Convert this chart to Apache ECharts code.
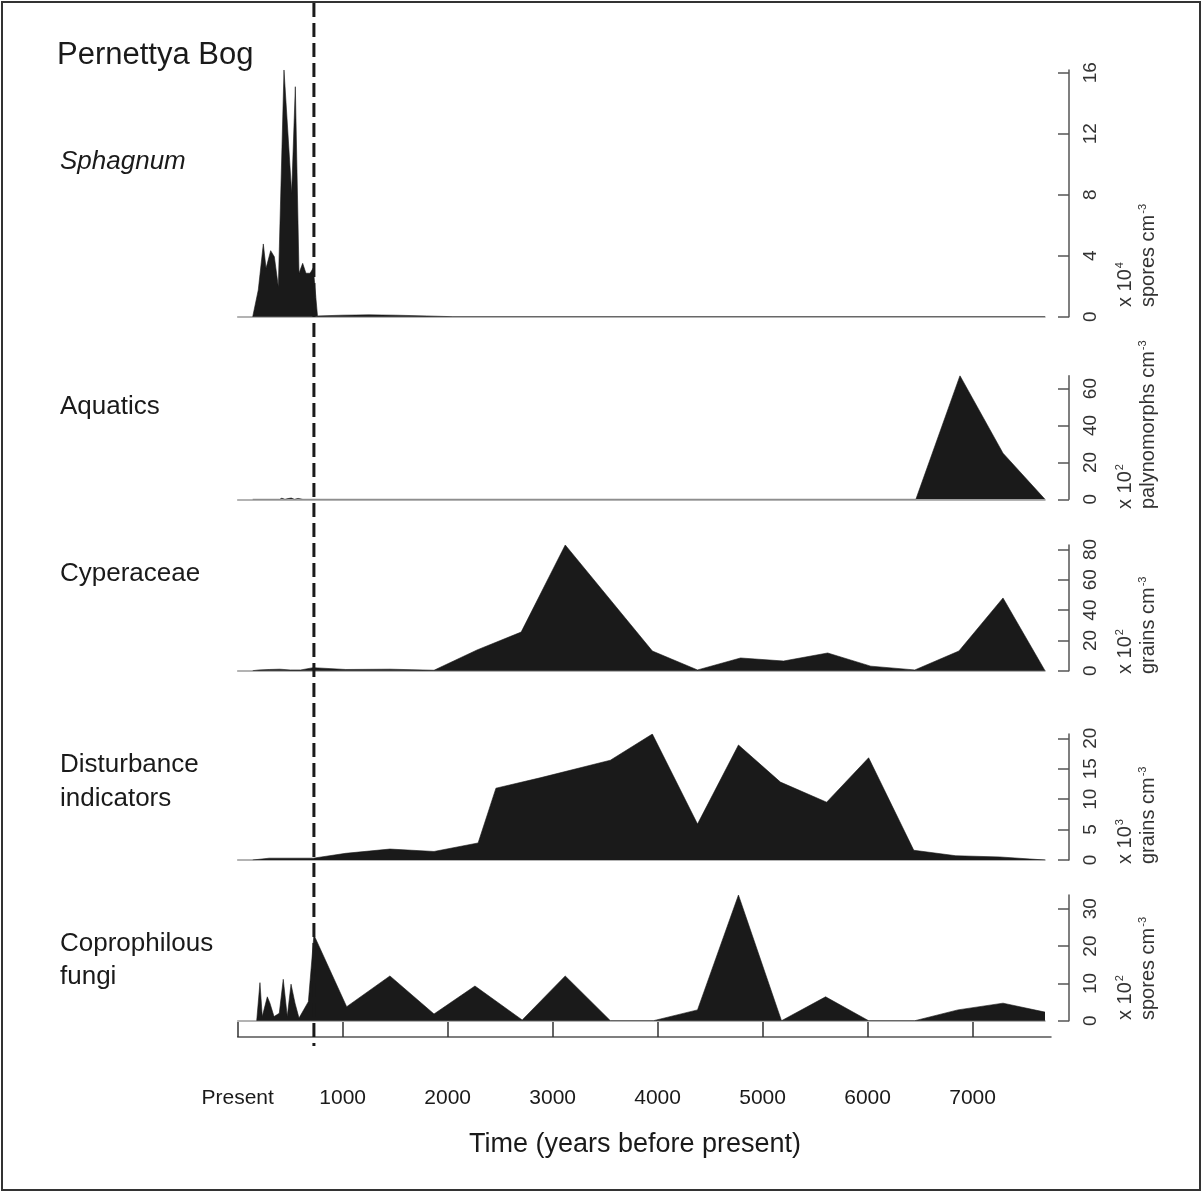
<!DOCTYPE html>
<html>
<head>
<meta charset="utf-8">
<script src="https://cdn.jsdelivr.net/npm/echarts@6/dist/echarts.min.js"></script>
<style>
  html, body { margin: 0; padding: 0; background: #ffffff; }
  #chart { width: 1203px; height: 1193px; }
</style>
</head>
<body>
<div id="chart"></div>
<script>
// ---- Time axis (years before present) ----
const timeTicks = [0, 1000, 2000, 3000, 4000, 5000, 6000, 7000];
const timeTickLabels = ['Present', '1000', '2000', '3000', '4000', '5000', '6000', '7000'];
const recordEnd = [7690];
const settlementAge = [726];

// ---- Sphagnum (x 10^4 spores cm-3) ----
const sphagnumAge  = [143, 196, 244, 270, 314, 349, 387, 441, 514, 549, 584, 619, 650, 689, 720, 760, 1000, 1250, 1500, 1800, 2050, 7690];
const sphagnumConc = [0, 1.75, 4.77, 3.17, 4.33, 3.93, 1.97, 16.18, 8.09, 15.08, 2.85, 3.5, 2.85, 2.85, 3.2, 0.05, 0.1, 0.12, 0.1, 0.05, 0, 0];
const sphagnumTicks = [0, 4, 8, 12, 16];

// ---- Aquatics (x 10^2 palynomorphs cm-3) ----
const aquaticsAge  = [143, 400, 420, 450, 480, 510, 540, 575, 590, 620, 720, 6460, 6880, 7290, 7690];
const aquaticsConc = [0, 0, 0.6, 0, 0.4, 0.7, 0, 0.5, 0, 0, 0, 0, 67, 25, 0];
const aquaticsTicks = [0, 20, 40, 60];

// ---- Cyperaceae (x 10^2 grains cm-3) ----
const cyperAge  = [143, 200, 300, 400, 500, 600, 720, 1030, 1450, 1870, 2280, 2700, 3120, 3950, 4380, 4790, 5200, 5620, 6030, 6450, 6870, 7290, 7690];
const cyperConc = [0, 0.5, 0.8, 1, 0.5, 0.5, 2, 0.8, 1, 0.3, 13.7, 25.5, 83, 13, 0.5, 8.4, 6.4, 11.7, 3, 0.5, 13, 48, 0];
const cyperTicks = [0, 20, 40, 60, 80];

// ---- Disturbance indicators (x 10^3 grains cm-3) ----
const disturbAge  = [143, 300, 500, 720, 1030, 1450, 1870, 2290, 2460, 2880, 3550, 3950, 4380, 4770, 5170, 5610, 6010, 6440, 6840, 7260, 7690];
const disturbConc = [0, 0.3, 0.3, 0.3, 1.1, 1.8, 1.4, 2.8, 11.8, 13.5, 16.4, 20.7, 5.9, 18.9, 12.8, 9.5, 16.8, 1.6, 0.7, 0.5, 0];
const disturbTicks = [0, 5, 10, 15, 20];

// ---- Coprophilous fungi (x 10^2 spores cm-3) ----
const coproAge  = [181, 212, 234, 282, 307, 346, 396, 434, 472, 508, 546, 584, 673, 726, 1038, 1450, 1870, 2260, 2710, 3120, 3550, 3960, 4380, 4770, 5180, 5600, 6010, 6450, 6860, 7290, 7690];
const coproConc = [0, 10.2, 1.1, 6.4, 4.7, 1.1, 2, 11.1, 1.1, 9.8, 4.7, 0.7, 5.1, 23, 3.75, 12, 1.8, 9.3, 0.2, 12, 0, 0, 2.9, 33.7, 0, 6.4, 0, 0, 2.9, 4.7, 2.3];
const coproTicks = [0, 10, 20, 30];

// ---- Panel layout: baseline (px) and vertical scale (px per unit) ----
const PLOT_LEFT = 237.7;
const PLOT_RIGHT = 1045;
const AXIS_END_PX = 1051;
const panels = [
  { name: 'Sphagnum', italic: true, age: sphagnumAge, conc: sphagnumConc, ticks: sphagnumTicks,
    base: 316.7, ppu: 15.25, exp: '4', unit: 'spores', labelY: [160], unitBottom: 307 },
  { name: 'Aquatics', age: aquaticsAge, conc: aquaticsConc, ticks: aquaticsTicks,
    base: 499.3, ppu: 1.845, exp: '2', unit: 'palynomorphs', labelY: [405], unitBottom: 509 },
  { name: 'Cyperaceae', age: cyperAge, conc: cyperConc, ticks: cyperTicks,
    base: 670.7, ppu: 1.515, exp: '2', unit: 'grains', labelY: [572], unitBottom: 674 },
  { name: 'Disturbance\nindicators', age: disturbAge, conc: disturbConc, ticks: disturbTicks,
    base: 860, ppu: 6.085, exp: '3', unit: 'grains', labelY: [763, 797], unitBottom: 864 },
  { name: 'Coprophilous\nfungi', age: coproAge, conc: coproConc, ticks: coproTicks,
    base: 1020.7, ppu: 3.73, exp: '2', unit: 'spores', labelY: [942, 975], unitBottom: 1020 }
];

const FONT = '"Liberation Sans", Arial, Helvetica, sans-serif';
const INK = '#1a1a1a';
const W = 1203;

const grids = [], xAxes = [], yAxes = [], series = [], graphics = [];

panels.forEach((p, i) => {
  const ymax = Math.max.apply(null, p.conc);
  const top = p.base - ymax * p.ppu;
  grids.push({ left: PLOT_LEFT, width: PLOT_RIGHT - PLOT_LEFT, top: top, height: p.base - top });
  xAxes.push({
    gridIndex: i, type: 'value', min: 0, max: recordEnd[0],
    axisLine: { show: true, onZero: false, lineStyle: { color: '#9a9a9a', width: 1.5 } },
    axisTick: { show: false }, axisLabel: { show: false }, splitLine: { show: false }
  });
  yAxes.push({
    gridIndex: i, type: 'value', min: 0, max: ymax, position: 'right', offset: 24,
    axisLine: { show: true, onZero: false, lineStyle: { color: '#555', width: 1.5 } },
    axisTick: { show: true, inside: true, length: 11, lineStyle: { color: '#555', width: 1.5 }, customValues: p.ticks },
    axisLabel: { show: true, rotate: 90, fontSize: 19, color: '#333', fontFamily: FONT, margin: 12, customValues: p.ticks },
    splitLine: { show: false }
  });
  series.push({
    type: 'line', xAxisIndex: i, yAxisIndex: i,
    data: p.age.map((a, k) => [a, p.conc[k]]),
    symbol: 'none', silent: true,
    lineStyle: { color: INK, width: 0.6 },
    areaStyle: { color: INK, opacity: 1 },
    z: 3
  });

  // panel label on the left
  const lines = p.name.split('\n');
  lines.forEach((ln, k) => {
    graphics.push({
      type: 'text', left: 60, top: p.labelY[k] - 11,
      style: { text: ln, font: (p.italic ? 'italic ' : '') + '26px ' + FONT, fill: '#1a1a1a' }
    });
  });

  // unit label, rotated, on the right of the axis
  graphics.push({
    type: 'text', x: 1125, y: p.unitBottom, rotation: Math.PI / 2,
    style: {
      text: 'x 10{sup|' + p.exp + '}', fontSize: 20, fontFamily: FONT, fill: '#333',
      align: 'left', verticalAlign: 'middle',
      rich: { sup: { fontSize: 11, fontFamily: FONT, fill: '#333', padding: [0, 0, 10, 1] } }
    }
  });
  graphics.push({
    type: 'text', x: 1148, y: p.unitBottom, rotation: Math.PI / 2,
    style: {
      text: p.unit + ' cm{sup|-3}', fontSize: 20, fontFamily: FONT, fill: '#333',
      align: 'left', verticalAlign: 'middle',
      rich: { sup: { fontSize: 11, fontFamily: FONT, fill: '#333', padding: [0, 0, 10, 1] } }
    }
  });
});

// shared time axis at the bottom
const axisGrid = grids.length;
const axisMaxAge = recordEnd[0] * (AXIS_END_PX - PLOT_LEFT) / (PLOT_RIGHT - PLOT_LEFT);
grids.push({ left: PLOT_LEFT, width: AXIS_END_PX - PLOT_LEFT, top: 1020, height: 17 });
xAxes.push({
  gridIndex: axisGrid, type: 'value', min: 0, max: axisMaxAge,
  axisLine: { show: true, onZero: false, lineStyle: { color: '#555', width: 1.5 } },
  axisTick: { show: true, inside: true, length: 15, lineStyle: { color: '#333', width: 1.5 }, customValues: timeTicks },
  axisLabel: {
    show: true, fontSize: 21, color: '#1a1a1a', fontFamily: FONT, margin: 51,
    customValues: timeTicks,
    formatter: v => timeTickLabels[timeTicks.indexOf(v)]
  },
  splitLine: { show: false }
});
yAxes.push({ gridIndex: axisGrid, type: 'value', min: 0, max: 1, show: false });
series.push({ type: 'line', xAxisIndex: axisGrid, yAxisIndex: axisGrid, data: [], silent: true });

// axis title, site title and frame
graphics.push({
  type: 'text', x: 635, y: 1145,
  style: { text: 'Time (years before present)', font: '27px ' + FONT, fill: '#1a1a1a', align: 'center', verticalAlign: 'middle' }
});
graphics.push({
  type: 'text', left: 57, top: 40,
  style: { text: 'Pernettya Bog', font: '31px ' + FONT, fill: '#1a1a1a' }
});
graphics.push({
  type: 'rect', shape: { x: 2, y: 2, width: W - 5, height: 1193 - 5 },
  style: { fill: 'none', stroke: '#333', lineWidth: 2 }, z: 10
});

const chart = echarts.init(document.getElementById('chart'), null, { renderer: 'canvas' });
chart.setOption({
  animation: false,
  backgroundColor: '#ffffff',
  grid: grids, xAxis: xAxes, yAxis: yAxes, series: series,
  graphic: graphics
});

// dashed marker at the settlement age, spanning all panels
const sx = chart.convertToPixel({ xAxisIndex: 0 }, settlementAge[0]);
chart.setOption({
  graphic: graphics.concat([{
    type: 'line', shape: { x1: sx, y1: 3, x2: sx, y2: 1046 },
    style: { stroke: '#1a1a1a', lineWidth: 3, lineDash: [14, 6] }, z: 20
  }])
});
</script>
</body>
</html>
